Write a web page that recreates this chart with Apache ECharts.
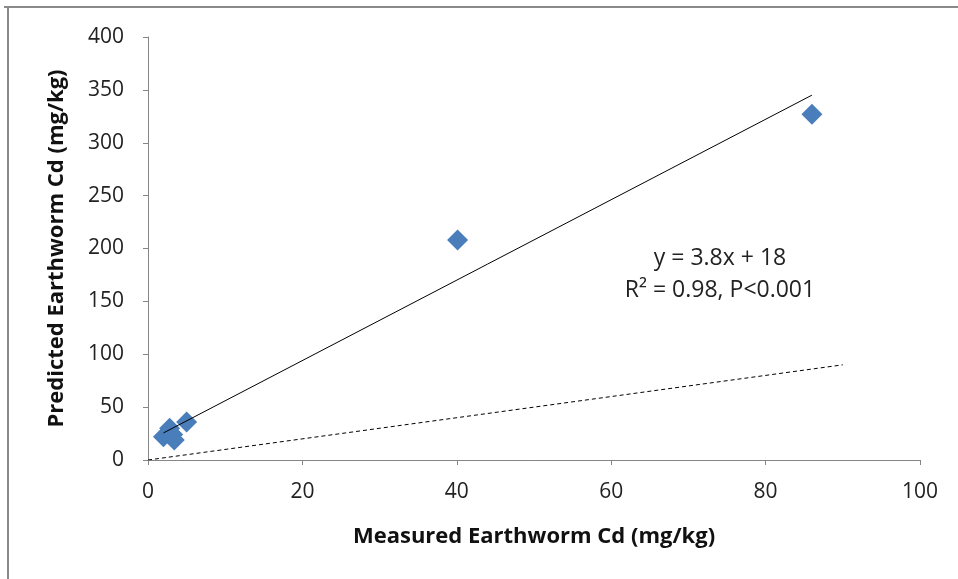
<!DOCTYPE html>
<html><head><meta charset="utf-8">
<script src="https://cdn.jsdelivr.net/npm/echarts@6/dist/echarts.min.js"></script>
<style>html,body{margin:0;padding:0;background:#fff}#c{width:958px;height:579px}</style>
</head><body><div id="c"></div>
<script>
const measured = [2.0, 2.8, 3.4, 3.2, 5.0, 40.1, 86.0];
const predicted = [22, 30, 19, 24, 36, 208, 327];
const fitLine = [[2, 25.6], [86, 345]];
const oneToOne = [[0, 0], [90, 90]];
const xTicks = [0, 20, 40, 60, 80, 100];
const yTicks = [0, 50, 100, 150, 200, 250, 300, 350, 400];
const eqText = ['y = 3.8x + 18', 'R\u00B2 = 0.98, P<0.001'];

const chart = echarts.init(document.getElementById('c'));
const font = '"Open Sans", sans-serif';
const axisCommon = {
  axisLine: {show: true, lineStyle: {color: '#868686', width: 1}},
  axisTick: {show: true, length: 5, lineStyle: {color: '#868686'}},
  splitLine: {show: false},
  axisLabel: {color: '#222', fontSize: 21, fontFamily: font},
  nameTextStyle: {color: '#111', fontSize: 22, fontWeight: 'bold', fontFamily: font}
};
chart.setOption({
  animation: false,
  grid: {left: 148, right: 38, top: 37, bottom: 119},
  xAxis: Object.assign({}, axisCommon, {
    type: 'value', min: xTicks[0], max: xTicks[xTicks.length-1], interval: 20,
    name: 'Measured Earthworm Cd (mg/kg)', nameLocation: 'middle', nameGap: 66,
    axisLabel: Object.assign({}, axisCommon.axisLabel, {margin: 22})
  }),
  yAxis: Object.assign({}, axisCommon, {
    type: 'value', min: yTicks[0], max: yTicks[yTicks.length-1], interval: 50,
    name: 'Predicted Earthworm Cd (mg/kg)', nameLocation: 'middle', nameGap: 80,
    axisLabel: Object.assign({}, axisCommon.axisLabel, {margin: 24})
  }),
  graphic: [
    {type: 'line', shape: {x1: 4, y1: 7, x2: 958, y2: 7}, style: {stroke: '#8a8a8a', lineWidth: 2}},
    {type: 'line', shape: {x1: 8, y1: 7, x2: 8, y2: 579}, style: {stroke: '#8a8a8a', lineWidth: 2}},
    {type: 'text', x: 720, y: 258, style: {text: eqText[0], fill: '#222', font: '23px ' + font, textAlign: 'center', textVerticalAlign: 'middle'}},
    {type: 'text', x: 720, y: 290, style: {text: eqText[1], fill: '#222', font: '23px ' + font, textAlign: 'center', textVerticalAlign: 'middle'}}
  ],
  series: [
    {type: 'line', data: oneToOne, symbol: 'none', lineStyle: {color: '#000', width: 1, type: [4, 3]}, z: 1},
    {type: 'scatter', data: measured.map((m, i) => [m, predicted[i]]), symbol: 'diamond', symbolSize: 21,
     itemStyle: {color: '#4a7ebb', borderWidth: 0, opacity: 1}, z: 2},
    {type: 'line', data: fitLine, symbol: 'none', lineStyle: {color: '#000', width: 1}, z: 3}
  ]
});
</script></body></html>
